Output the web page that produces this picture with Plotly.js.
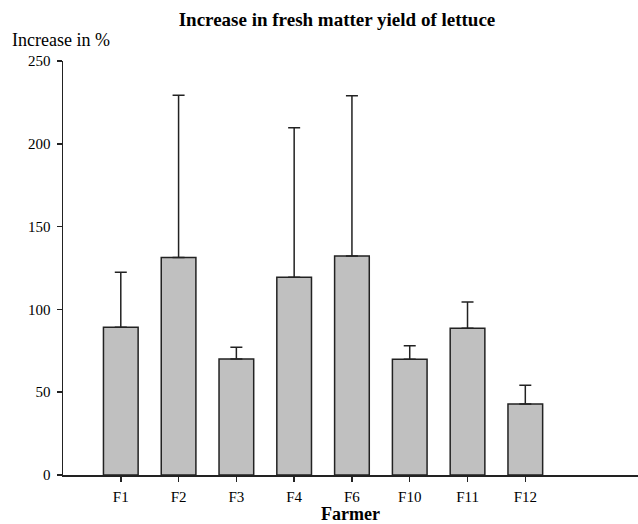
<!DOCTYPE html>
<html><head><meta charset="utf-8">
<script src="https://cdn.plot.ly/plotly-3.0.1.min.js"></script>
<style>body{margin:0;padding:0;background:#fff}#chart{width:638px;height:524px}</style>
</head><body><div id="chart"></div>
<script>
const farmers = ["F1","F2","F3","F4","F6","F10","F11","F12"];
const increase = [89.2, 131.4, 70.0, 119.4, 132.2, 69.9, 88.6, 42.9];
const errorUp = [33.2, 97.9, 7.2, 90.3, 96.8, 8.2, 15.9, 11.3];
const yTicks = [0, 50, 100, 150, 200, 250];

const trace = {
  type: "bar",
  x: farmers,
  y: increase,
  width: 0.6,
  marker: {color: "#c0c0c0", line: {color: "#222", width: 1.5}},
  error_y: {type: "data", symmetric: false, array: errorUp, arrayminus: errorUp.map(() => 0),
            color: "#222", thickness: 1.5, width: 6}
};
const layout = {
  width: 638, height: 524,
  margin: {l: 63, r: 0, t: 61, b: 49},
  paper_bgcolor: "#fff", plot_bgcolor: "#fff",
  showlegend: false,
  font: {family: "Liberation Serif, Times New Roman, serif", color: "#000"},
  title: {text: "<b>Increase in fresh matter yield of lettuce</b>", font: {size: 19, family: "Liberation Serif, serif"},
          x: 0.4765, xref: "paper", xanchor: "center", y: 0.9637, yanchor: "middle"},
  xaxis: {type: "category", range: [-1, 8.95], showline: true, linecolor: "#222", linewidth: 1.5,
          ticks: "outside", ticklen: 5, tickcolor: "#222", tickwidth: 1.5, showgrid: false, zeroline: false,
          tickfont: {size: 15}, ticklabelstandoff: 2, fixedrange: true,
          title: {text: "<b>Farmer</b>", font: {size: 18}, standoff: 7}},
  yaxis: {range: [0, 250], tickvals: yTicks, showline: true, linecolor: "#222", linewidth: 1.5,
          ticks: "outside", ticklen: 5, tickcolor: "#222", tickwidth: 1.5, showgrid: false, zeroline: false,
          tickfont: {size: 15}, ticklabelstandoff: 3, fixedrange: true},
  annotations: [{text: "Increase in %", xref: "paper", yref: "paper", x: -0.092, y: 1.0507,
                 xanchor: "left", yanchor: "middle", showarrow: false, font: {size: 18}}]
};
Plotly.newPlot("chart", [trace], layout, {displayModeBar: false, staticPlot: true});
</script></body></html>
